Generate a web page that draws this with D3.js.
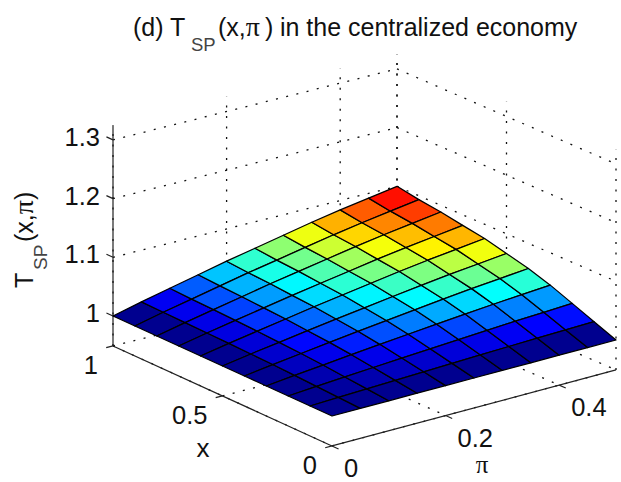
<!DOCTYPE html>
<meta charset="utf-8">
<style>
  body { margin: 0; background: #fff; }
  text { font-family: "Liberation Sans", Arial, sans-serif; fill: #111; }
</style>
<script src="https://d3js.org/d3.v7.min.js"></script>
<div id="my_dataviz"></div>
<script>
// grid of the surface
var xValues = [0, 0.1, 0.2, 0.3, 0.4, 0.5, 0.6, 0.7, 0.8, 0.9, 1];
var piValues = [0, 0.05, 0.1, 0.15, 0.2, 0.25, 0.3, 0.35, 0.4, 0.45, 0.5];
// T_SP, one row per x, one column per pi
var tValues = [
  [1, 1, 1, 1, 1, 1, 1, 1, 1, 1, 1],
  [1, 1.0018, 1.0035, 1.0051, 1.0068, 1.0083, 1.0098, 1.0113, 1.0126, 1.0138, 1.015],
  [1, 1.0036, 1.0069, 1.0102, 1.0135, 1.0165, 1.0195, 1.0225, 1.0252, 1.0276, 1.03],
  [1, 1.0054, 1.0103, 1.0153, 1.0202, 1.0247, 1.0292, 1.0337, 1.0377, 1.0413, 1.0449],
  [1, 1.0069, 1.0131, 1.0194, 1.0257, 1.0314, 1.0371, 1.0428, 1.048, 1.0525, 1.0571],
  [1, 1.008, 1.0153, 1.0226, 1.0299, 1.0365, 1.0432, 1.0498, 1.0558, 1.0611, 1.0664],
  [1, 1.0091, 1.0174, 1.0258, 1.0341, 1.0417, 1.0493, 1.0569, 1.0637, 1.0697, 1.0758],
  [1, 1.0098, 1.0189, 1.0279, 1.0369, 1.0451, 1.0533, 1.0615, 1.0689, 1.0754, 1.082],
  [1, 1.0106, 1.0204, 1.0301, 1.0399, 1.0487, 1.0576, 1.0665, 1.0744, 1.0815, 1.0886],
  [1, 1.0112, 1.0215, 1.0318, 1.0421, 1.0514, 1.0608, 1.0701, 1.0785, 1.086, 1.0935],
  [1, 1.012, 1.023, 1.034, 1.045, 1.055, 1.065, 1.075, 1.084, 1.092, 1.1]
];
var xTicks = [0, 0.5, 1];
var piTicks = [0, 0.2, 0.4];
var zTicks = [1, 1.1, 1.2, 1.3];
var zLabels = ["1", "1.1", "1.2", "1.3"];
var xLim = [0, 1], piLim = [0, 0.5], zLim = [0.949, 1.325];

var svg = d3.select("#my_dataviz").append("svg")
  .attr("width", 621)
  .attr("height", 482);

// axis box on screen: the z=1 plane is a slightly skewed quadrilateral
var corner = {
  front: [332, 416],  // x=0, pi=0
  left:  [113, 316],  // x=1, pi=0
  right: [616, 340],  // x=0, pi=0.5
  back:  [397, 245]   // x=1, pi=0.5
};
var xScale = d3.scaleLinear().domain(xLim).range([0, 1]);
var piScale = d3.scaleLinear().domain(piLim).range([0, 1]);
var zScale = d3.scaleLinear().domain([1, 1.1]).range([0, -58.7]);

function project(x, pi, z) {
  var u = xScale(x), v = piScale(pi);
  var a = (1 - u) * (1 - v), b = u * (1 - v), c = (1 - u) * v, d = u * v;
  return [
    a * corner.front[0] + b * corner.left[0] + c * corner.right[0] + d * corner.back[0],
    a * corner.front[1] + b * corner.left[1] + c * corner.right[1] + d * corner.back[1] + zScale(z)
  ];
}
function seg(p, q) { return "M" + p[0] + "," + p[1] + "L" + q[0] + "," + q[1]; }

// jet colormap over the data range
var jet = d3.scaleLinear()
  .domain([0, 0.125, 0.375, 0.625, 0.875, 1])
  .range(["#00008f", "#0000ff", "#00ffff", "#ffff00", "#ff0000", "#800000"]);
var color = d3.scaleLinear().domain([1, 1.1]).range([0, 1]);

// dotted grid on the two back walls and the floor
var gridPaths = [];
zTicks.forEach(function (z) {
  gridPaths.push(seg(project(1, 0, z), project(1, 0.5, z)));
  gridPaths.push(seg(project(1, 0.5, z), project(0, 0.5, z)));
});
piTicks.concat([0.5]).forEach(function (p) {
  gridPaths.push(seg(project(1, p, zLim[0]), project(1, p, zLim[1])));
  gridPaths.push(seg(project(1, p, zLim[0]), project(0, p, zLim[0])));
});
xTicks.forEach(function (x) {
  gridPaths.push(seg(project(x, 0.5, zLim[0]), project(x, 0.5, zLim[1])));
  gridPaths.push(seg(project(x, 0, zLim[0]), project(x, 0.5, zLim[0])));
});
svg.append("g").selectAll("path")
  .data(gridPaths)
  .enter().append("path")
    .attr("d", function (d) { return d; })
    .attr("fill", "none")
    .attr("stroke", "#111")
    .attr("stroke-width", 1.3)
    .attr("stroke-dasharray", "2 8.5");

// axis lines and ticks
var axisPaths = [
  seg(project(1, 0, zLim[0]), project(1, 0, zLim[1])),
  seg(project(1, 0, zLim[0]), project(0, 0, zLim[0])),
  seg(project(0, 0, zLim[0]), project(0, 0.5, zLim[0]))
];
zTicks.forEach(function (z) { axisPaths.push(seg(project(1, 0, z), project(1.03, 0, z))); });
xTicks.forEach(function (x) { axisPaths.push(seg(project(x, 0, zLim[0]), project(x, -0.012, zLim[0]))); });
piTicks.forEach(function (p) { axisPaths.push(seg(project(0, p, zLim[0]), project(-0.03, p, zLim[0]))); });
svg.append("g").selectAll("path")
  .data(axisPaths)
  .enter().append("path")
    .attr("d", function (d) { return d; })
    .attr("fill", "none")
    .attr("stroke", "#222")
    .attr("stroke-width", 1.2);

// surface, back cells first; flat colour comes from the cell's low-index corner
var cells = [];
d3.range(xValues.length - 1).forEach(function (i) {
  d3.range(piValues.length - 1).forEach(function (j) {
    cells.push({ i: i, j: j });
  });
});
cells.sort(function (a, b) { return (b.i - b.j) - (a.i - a.j); });
svg.append("g").selectAll("path")
  .data(cells)
  .enter().append("path")
    .attr("d", function (d) {
      var pts = [[d.i, d.j], [d.i + 1, d.j], [d.i + 1, d.j + 1], [d.i, d.j + 1]].map(function (k) {
        return project(xValues[k[0]], piValues[k[1]], tValues[k[0]][k[1]]);
      });
      return d3.line()(pts) + "Z";
    })
    .attr("fill", function (d) { return jet(color(tValues[d.i][d.j])); })
    .attr("stroke", "#000")
    .attr("stroke-width", 1.25)
    .attr("stroke-linejoin", "round");

// tick labels
var fontSize = 25.5;
svg.append("g").selectAll("text")
  .data(zTicks)
  .enter().append("text")
    .attr("x", 100)
    .attr("y", function (d) { return project(1, 0, d)[1] + 6; })
    .attr("text-anchor", "end")
    .attr("font-size", fontSize)
    .text(function (d, i) { return zLabels[i]; });
svg.append("g").selectAll("text")
  .data(xTicks)
  .enter().append("text")
    .attr("x", function (d) { return project(d, 0, zLim[0])[0] - 15; })
    .attr("y", function (d) { return project(d, 0, zLim[0])[1] + 28; })
    .attr("text-anchor", "end")
    .attr("font-size", fontSize)
    .text(function (d) { return d; });
svg.append("g").selectAll("text")
  .data(piTicks)
  .enter().append("text")
    .attr("x", function (d) { return project(0, d, zLim[0])[0] + 12; })
    .attr("y", function (d) { return project(0, d, zLim[0])[1] + 31; })
    .attr("font-size", fontSize)
    .text(function (d) { return d; });

// axis labels
svg.append("text")
  .attr("x", 203).attr("y", 457)
  .attr("text-anchor", "middle")
  .attr("font-size", 26)
  .text("x");
svg.append("text")
  .attr("x", 482).attr("y", 473)
  .attr("text-anchor", "middle")
  .attr("font-size", 25)
  .style("font-family", "Liberation Serif")
  .text("π");

var ylabel = svg.append("text")
  .attr("transform", "translate(33,288) rotate(-90)")
  .attr("font-size", 25);
ylabel.append("tspan").text("T");
ylabel.append("tspan").attr("x", 18).attr("dy", 14).attr("font-size", 19).attr("fill", "#444").text("SP");
ylabel.append("tspan").attr("x", 46).attr("dy", -14).text("(x,");
ylabel.append("tspan").style("font-family", "Liberation Serif").attr("font-size", 28).text("π");
ylabel.append("tspan").text(")");

// title
var title = svg.append("text")
  .attr("x", 133).attr("y", 36)
  .attr("font-size", 25);
title.append("tspan").text("(d) T");
title.append("tspan").attr("x", 191).attr("dy", 15).attr("font-size", 18.5).attr("fill", "#444").text("SP");
title.append("tspan").attr("x", 218).attr("dy", -15).text("(x,");
title.append("tspan").style("font-family", "Liberation Serif").attr("font-size", 28).text("π");
title.append("tspan").attr("x", 265).text(")");
title.append("tspan").attr("x", 273).text(" in the centralized economy");
</script>
